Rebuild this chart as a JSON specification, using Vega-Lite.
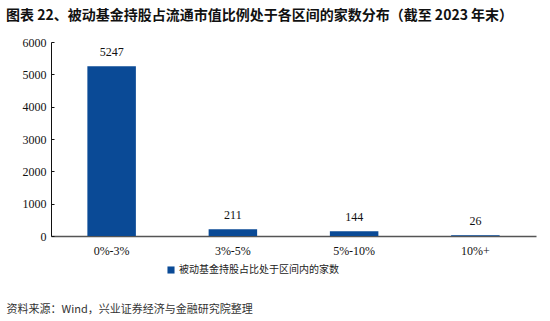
{
  "$schema": "https://vega.github.io/schema/vega-lite/v6.json",
  "width": 485,
  "height": 194,
  "autosize": {"type": "none"},
  "padding": {"left": 51, "top": 42, "right": 14, "bottom": 85},
  "background": "white",
  "config": {
    "view": {"stroke": null},
    "axisY": {
      "tickCount": 6,
      "format": "d",
      "labelFont": "Liberation Serif",
      "labelFontSize": 12,
      "labelColor": "#111",
      "labelPadding": 8,
      "tickSize": -3,
      "tickColor": "#111",
      "domainColor": "#111",
      "grid": false,
      "title": null
    }
  },
  "title": {
    "text": "图表 22、被动基金持股占流通市值比例处于各区间的家数分布（截至 2023 年末）",
    "anchor": "start",
    "frame": "group",
    "dx": -45,
    "offset": 13,
    "font": "Noto Sans CJK SC",
    "fontSize": 14,
    "fontWeight": "bold",
    "color": "#111"
  },
  "datasets": {
    "bars": [
      {"range": "0%-3%", "count": 5247, "series": "被动基金持股占比处于区间内的家数"},
      {"range": "3%-5%", "count": 211, "series": "被动基金持股占比处于区间内的家数"},
      {"range": "5%-10%", "count": 144, "series": "被动基金持股占比处于区间内的家数"},
      {"range": "10%+", "count": 26, "series": "被动基金持股占比处于区间内的家数"}
    ]
  },
  "layer": [
    {
      "data": {"name": "bars"},
      "mark": {"type": "bar", "color": "#0A4A96"},
      "encoding": {
        "x": {
          "field": "range",
          "type": "nominal",
          "sort": null,
          "scale": {"paddingInner": 0.6, "paddingOuter": 0.3},
          "axis": {
            "title": "资料来源：Wind，兴业证券经济与金融研究院整理",
            "titleX": -45,
            "titleY": 73,
            "titleAlign": "left",
            "titleBaseline": "middle",
            "titleFont": "Noto Sans CJK SC",
            "titleFontSize": 11,
            "titleFontWeight": "normal",
            "titleColor": "#333",
            "labelAngle": 0,
            "labelFont": "Liberation Serif",
            "labelFontSize": 12,
            "labelColor": "#111",
            "labelPadding": 9,
            "ticks": false,
            "domainColor": "#555",
            "domainWidth": 1.5,
            "grid": false
          }
        },
        "y": {
          "field": "count",
          "type": "quantitative",
          "scale": {"domain": [0, 6000]}
        },
        "color": {
          "field": "series",
          "type": "nominal",
          "scale": {"range": ["#0A4A96"]},
          "legend": {
            "title": null,
            "orient": "none",
            "legendX": 115,
            "legendY": 223,
            "symbolType": "square",
            "symbolSize": 50,
            "labelFont": "Noto Sans CJK SC",
            "labelFontSize": 10,
            "labelColor": "#222",
            "labelOffset": 3
          }
        }
      }
    },
    {
      "data": {"name": "bars"},
      "mark": {"type": "text", "baseline": "bottom", "dy": -7, "font": "Liberation Serif", "fontSize": 12, "color": "#111"},
      "encoding": {
        "x": {"field": "range", "type": "nominal", "sort": null},
        "y": {"field": "count", "type": "quantitative"},
        "text": {"field": "count", "type": "quantitative"}
      }
    }
  ]
}
